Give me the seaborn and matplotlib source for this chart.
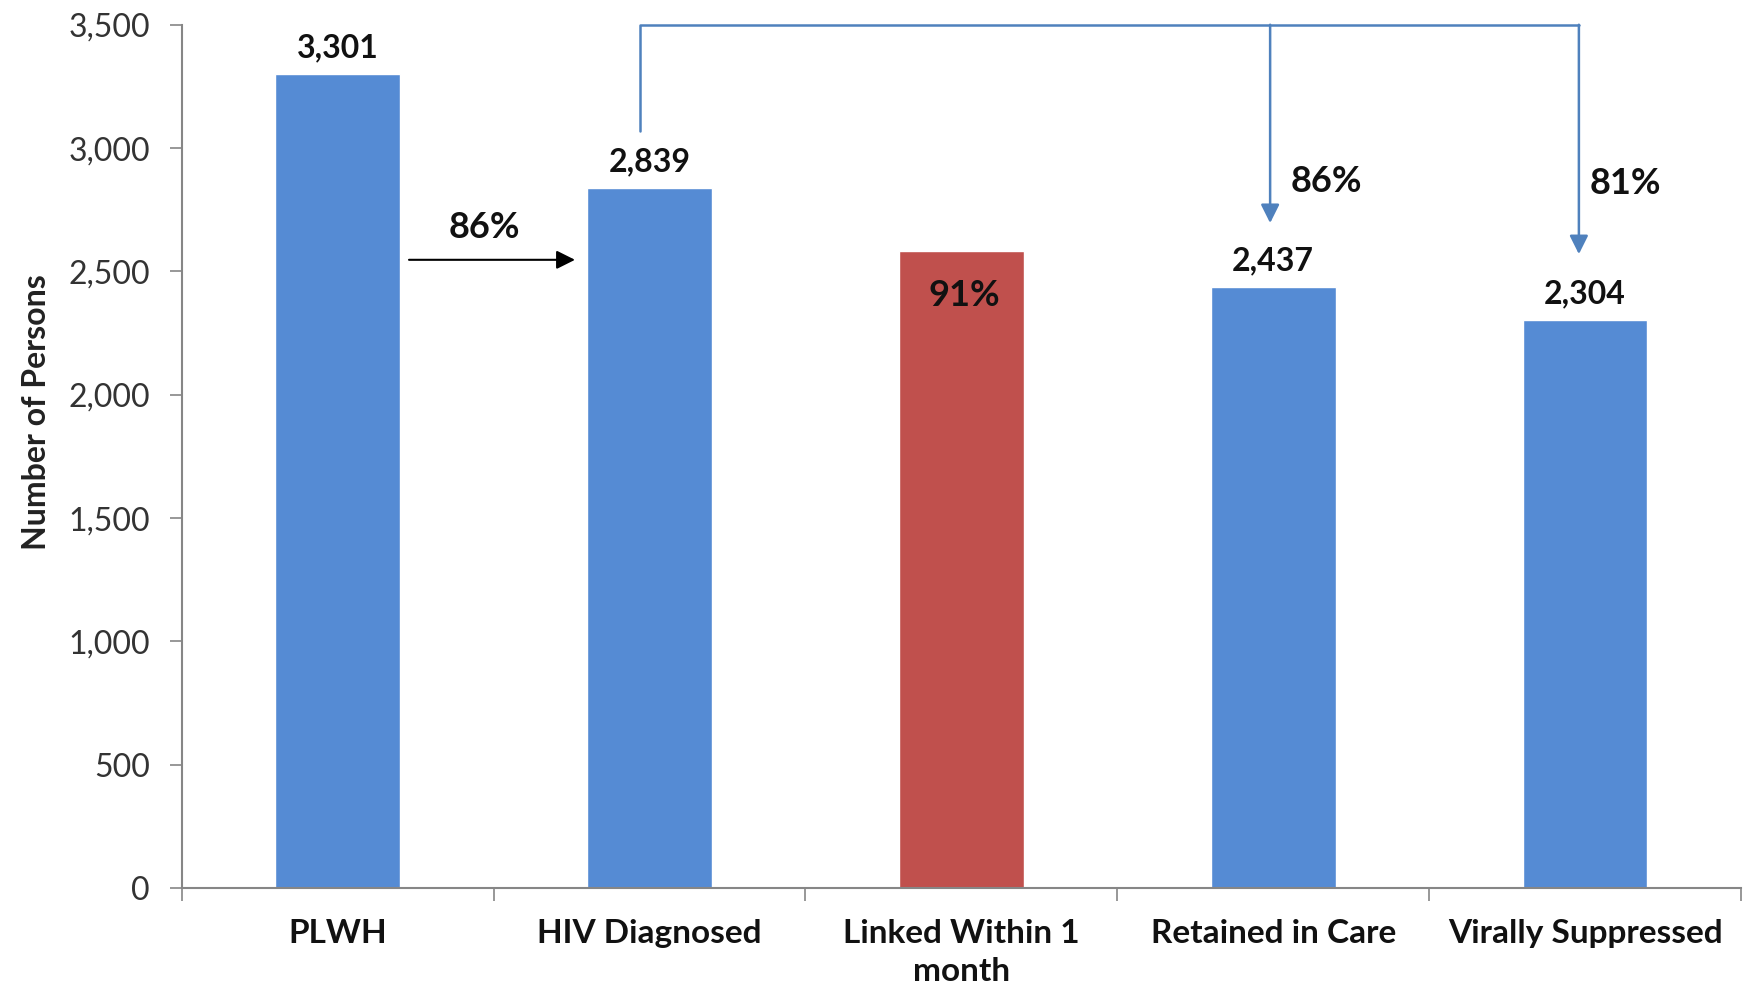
import numpy as np
import seaborn as sns
import matplotlib.pyplot as plt
import pandas as pd
from matplotlib.ticker import FuncFormatter

# Care continuum values
stages = ['PLWH', 'HIV Diagnosed', 'Linked Within 1\nmonth', 'Retained in Care', 'Virally Suppressed']
persons = [3301, 2839, 2583, 2437, 2304]
bar_colors = ['#558BD4', '#558BD4', '#C0504D', '#558BD4', '#558BD4']
value_labels = ['3,301', '2,839', '', '2,437', '2,304']

sns.set_theme(style='white')
plt.rcParams['font.family'] = ['Lato', 'DejaVu Sans']

df = pd.DataFrame({'stage': stages, 'persons': persons})

fig = plt.figure(figsize=(17.47, 9.9), dpi=100)
ax = fig.add_axes([0.104, 0.103, 0.8926, 0.872])
sns.barplot(data=df, x='stage', y='persons', hue='stage', palette=bar_colors,
            legend=False, width=0.4, saturation=1, ax=ax)

ax.set_xlim(-0.5, 4.5)
ax.set_ylim(0, 3500)
ax.set_yticks(np.arange(0, 3501, 500))
ax.yaxis.set_major_formatter(FuncFormatter(lambda v, p: f'{int(v):,}'))
ax.set_xticks(np.arange(-0.5, 4.6, 1), minor=False)
ax.set_xticklabels([])
ax.set_xticks(range(5), minor=True)
ax.set_xticklabels(stages, minor=True, fontsize=24, fontweight='bold', color='#111111',
                   linespacing=1.4)
ax.tick_params(axis='x', which='minor', length=0, pad=22)
ax.tick_params(axis='x', which='major', direction='out', length=9, width=1.2, color='#868686', bottom=True)
ax.tick_params(axis='y', direction='out', length=9, width=1.2, color='#868686', left=True,
               labelsize=23, labelcolor='#333333', pad=14)
ax.set_xlabel('')
ax.set_ylabel('Number of Persons', fontsize=23, fontweight='bold', color='#222222')
ax.yaxis.set_label_coords(-0.084, 0.551)

for s in ['top', 'right']:
    ax.spines[s].set_visible(False)
for s in ['left', 'bottom']:
    ax.spines[s].set_color('#868686')
    ax.spines[s].set_linewidth(1.5)

# value labels above the bars
for i, (v, lab) in enumerate(zip(persons, value_labels)):
    if lab:
        ax.annotate(lab, xy=(i, v), xytext=(0, 19), textcoords='offset points',
                    ha='center', va='center', fontsize=23, fontweight='bold', color='#111111')

ax.text(2.01, 2403, '91%', ha='center', va='center', fontsize=26, fontweight='bold', color='#111111')

# black arrow PLWH -> Diagnosed
ax.annotate('', xy=(0.77, 2547), xytext=(0.22, 2547),
            arrowprops=dict(arrowstyle='-|>', color='black', lw=1.5, mutation_scale=28))
ax.text(0.47, 2678, '86%', ha='center', va='center', fontsize=26, fontweight='bold', color='#111111')

# blue bracket from Diagnosed to Retained / Suppressed
bc = '#4F81BD'
ax.plot([0.97, 0.97, 3.98], [3071, 3500, 3500], color=bc, lw=1.8, clip_on=False)
ax.annotate('', xy=(2.99, 2696), xytext=(2.99, 3500),
            arrowprops=dict(arrowstyle='-|>', color=bc, lw=1.8, mutation_scale=28, shrinkA=0, shrinkB=0),
            annotation_clip=False)
ax.annotate('', xy=(3.98, 2570), xytext=(3.98, 3500),
            arrowprops=dict(arrowstyle='-|>', color=bc, lw=1.8, mutation_scale=28, shrinkA=0, shrinkB=0),
            annotation_clip=False)
ax.text(3.17, 2864, '86%', ha='center', va='center', fontsize=26, fontweight='bold', color='#111111')
ax.text(4.13, 2855, '81%', ha='center', va='center', fontsize=26, fontweight='bold', color='#111111')

plt.savefig('out.png', dpi=100)
